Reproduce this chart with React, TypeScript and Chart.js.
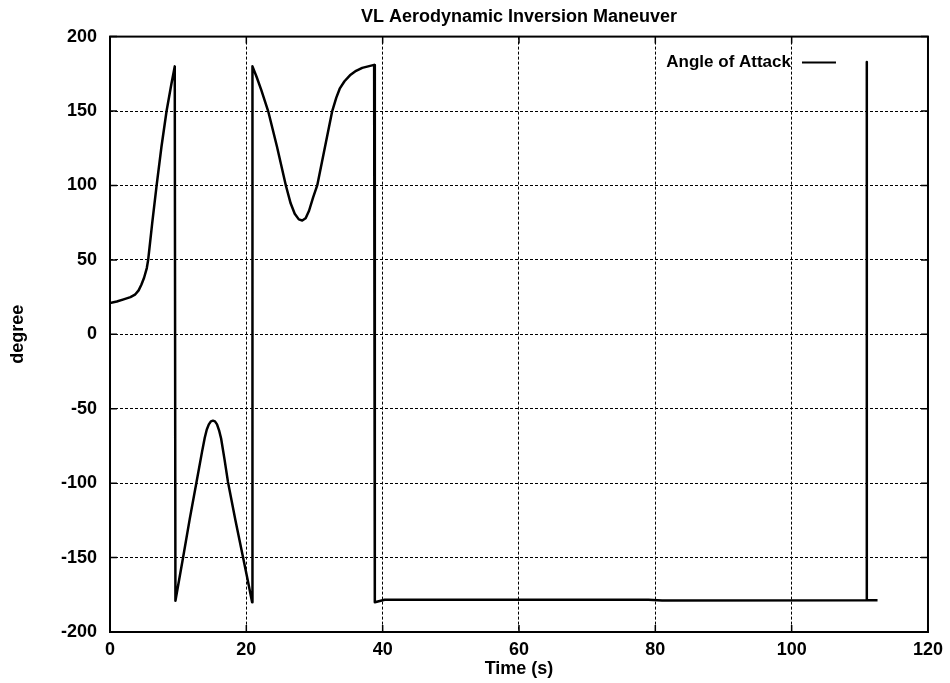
import React, { useEffect, useRef } from "react";
import { Chart, registerables } from "chart.js";

Chart.register(...registerables);

const chartTitle = "VL Aerodynamic Inversion Maneuver";
const seriesLabel = "Angle of Attack";
const xAxisLabel = "Time (s)";
const yAxisLabel = "degree";

const timeValues = [
  0, 1, 2, 3, 3.66, 4.2, 4.6, 5.0, 5.4, 5.6, 6.2, 6.84, 7.55, 8.3, 9.0, 9.5,
  9.6, 10.74, 11.7, 12.7, 13.5, 13.9, 14.2, 14.5, 14.8, 15.1, 15.4, 15.7, 16.0, 16.3, 16.8, 17.3, 18.4, 19.5, 20.2, 20.85,
  20.9, 21.5, 22.2, 23.2, 24.5, 25.8, 26.5, 27.1, 27.7, 28.2, 28.7, 29.2, 29.8, 30.4, 31.5, 32.6, 33.2, 33.7, 34.4, 35.2, 36.1, 37, 38.75,
  38.85, 40.3, 60, 79, 81, 111.0, 111.0, 111.05, 112.6,
];
const angleValues = [
  21, 22, 23.5, 25, 26.6, 29.5, 33.3, 38, 44.5, 50, 75, 100, 126, 150, 168, 180,
  -179, -149.5, -124, -99, -79, -69.5, -64, -60.5, -58.5, -58, -58.5, -60.5, -64.5, -70, -84, -99, -125, -149.5, -165, -180,
  180, 173, 164, 150, 126, 100, 88, 81, 77.2, 76.5, 78, 83, 92, 100, 125, 150, 159, 165, 170, 174, 177, 179, 181,
  -180, -178.3, -178.3, -178.3, -178.8, -178.7, 183, -178.7, -178.7,
];

const xMin = 0, xMax = 120, xStep = 20;
const yMin = -200, yMax = 200, yStep = 50;

const FONT = "'Liberation Sans', Arial, Helvetica, sans-serif";

const framePlugin = {
  id: "frameAndTicks",
  afterDraw(chart: any) {
    const { ctx, chartArea } = chart;
    const { left, right, top, bottom } = chartArea;
    const xs = chart.scales.x;
    const ys = chart.scales.y;
    ctx.save();
    ctx.strokeStyle = "#000";
    ctx.lineWidth = 1.5;
    ctx.setLineDash([]);
    const tl = 7;
    ctx.beginPath();
    for (let v = xMin; v <= xMax; v += xStep) {
      const px = xs.getPixelForValue(v);
      ctx.moveTo(px, bottom);
      ctx.lineTo(px, bottom - tl);
      ctx.moveTo(px, top);
      ctx.lineTo(px, top + tl);
    }
    for (let v = yMin; v <= yMax; v += yStep) {
      const py = ys.getPixelForValue(v);
      ctx.moveTo(left, py);
      ctx.lineTo(left + tl, py);
      ctx.moveTo(right, py);
      ctx.lineTo(right - tl, py);
    }
    ctx.stroke();
    ctx.lineWidth = 2;
    ctx.strokeRect(left, top, right - left, bottom - top);

    // legend
    const label = chart.data.datasets[0].label;
    ctx.font = `bold 17px ${FONT}`;
    ctx.fillStyle = "#000";
    ctx.textAlign = "right";
    ctx.textBaseline = "middle";
    const ly = top + 26;
    ctx.fillText(label, right - 137, ly);
    ctx.lineWidth = 2;
    ctx.beginPath();
    ctx.moveTo(right - 126, ly);
    ctx.lineTo(right - 92, ly);
    ctx.stroke();
    ctx.restore();
  },
};

export default function App() {
  const canvasRef = useRef<HTMLCanvasElement | null>(null);

  useEffect(() => {
    if (!canvasRef.current) return;
    const points = timeValues.map((t, i) => ({ x: t, y: angleValues[i] }));
    const chart = new Chart(canvasRef.current, {
      type: "line",
      data: {
        datasets: [
          {
            label: seriesLabel,
            data: points,
            borderColor: "#000",
            borderWidth: 2.5,
            borderJoinStyle: "round",
            pointRadius: 0,
            tension: 0,
            fill: false,
          },
        ],
      },
      options: {
        animation: false,
        responsive: false,
        layout: { padding: { left: 0, right: 21, top: 0, bottom: 0 } },
        plugins: {
          legend: { display: false },
          tooltip: { enabled: false },
          title: {
            display: true,
            fullSize: false,
            text: chartTitle,
            color: "#000",
            font: { family: FONT, size: 18, weight: "bold" },
            padding: { top: 6, bottom: 9 },
          },
        },
        scales: {
          x: {
            type: "linear",
            min: xMin,
            max: xMax,
            ticks: {
              stepSize: xStep,
              color: "#000",
              font: { family: FONT, size: 18, weight: "bold" },
              padding: 7,
              maxRotation: 0,
            },
            grid: {
              color: "#000",
              lineWidth: 1,
              drawTicks: false,
            },
            border: { display: false, dash: [3, 2] },
            title: {
              display: true,
              text: xAxisLabel,
              color: "#000",
              font: { family: FONT, size: 18, weight: "bold" },
              padding: { top: 0, bottom: 3 },
            },
            afterFit: (scale: any) => {
              scale.height = 51;
            },
          },
          y: {
            type: "linear",
            min: yMin,
            max: yMax,
            ticks: {
              stepSize: yStep,
              color: "#000",
              font: { family: FONT, size: 18, weight: "bold" },
              padding: 13,
            },
            grid: {
              color: "#000",
              lineWidth: 1,
              drawTicks: false,
            },
            border: { display: false, dash: [3, 2] },
            title: {
              display: true,
              text: yAxisLabel,
              color: "#000",
              font: { family: FONT, size: 18, weight: "bold" },
              padding: { top: 7, bottom: 7 },
            },
            afterFit: (scale: any) => {
              scale.width = 110;
            },
          },
        },
      },
      plugins: [framePlugin],
    });
    return () => chart.destroy();
  }, []);

  return (
    <div style={{ position: "absolute", left: 0, top: 0, width: 950, height: 683, background: "#fff" }}>
      <canvas ref={canvasRef} width={950} height={683} style={{ display: "block" }} />
    </div>
  );
}
